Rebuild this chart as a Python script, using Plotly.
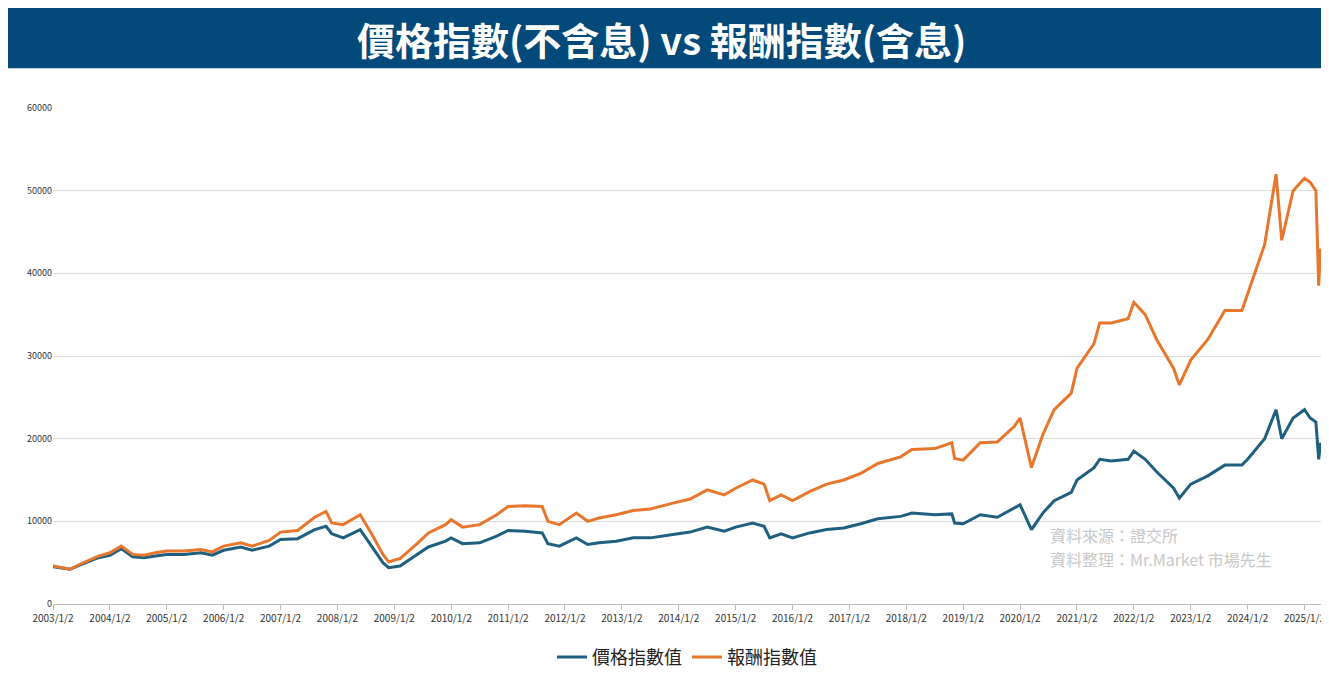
import plotly.graph_objects as go

t = [2003.0,2003.3,2003.5,2003.8,2004.0,2004.2,2004.4,2004.6,2004.8,2005.0,2005.3,2005.6,2005.8,2006.0,2006.3,2006.5,2006.8,2007.0,2007.3,2007.6,2007.8,2007.9,2008.1,2008.4,2008.6,2008.8,2008.9,2009.1,2009.4,2009.6,2009.9,2010.0,2010.2,2010.5,2010.8,2011.0,2011.3,2011.6,2011.7,2011.9,2012.2,2012.4,2012.6,2012.9,2013.2,2013.5,2013.9,2014.2,2014.5,2014.8,2015.0,2015.3,2015.5,2015.6,2015.8,2016.0,2016.3,2016.6,2016.9,2017.2,2017.5,2017.9,2018.1,2018.5,2018.8,2018.85,2019.0,2019.3,2019.6,2019.9,2020.0,2020.2,2020.4,2020.6,2020.9,2021.0,2021.3,2021.4,2021.6,2021.9,2022.0,2022.2,2022.4,2022.7,2022.8,2023.0,2023.3,2023.6,2023.9,2024.0,2024.3,2024.5,2024.6,2024.8,2025.0,2025.1,2025.2,2025.25,2025.28]
price = [4500,4200,4800,5600,5900,6700,5700,5600,5800,6000,6000,6200,5900,6500,6900,6500,7000,7800,7900,9000,9400,8500,8000,9000,7000,5000,4400,4600,6000,6900,7600,8000,7300,7400,8200,8900,8800,8600,7300,7000,8000,7200,7400,7600,8000,8000,8400,8700,9300,8800,9300,9800,9400,8000,8500,8000,8600,9000,9200,9700,10300,10600,11000,10800,10900,9800,9700,10800,10500,11600,12000,9000,11000,12500,13500,15000,16500,17500,17300,17500,18500,17500,16000,14000,12800,14500,15500,16800,16800,17500,20000,23500,20000,22500,23500,22500,22000,17500,19500]
total = [4600,4200,4900,5800,6200,7000,6000,5900,6200,6400,6400,6600,6300,7000,7400,7000,7700,8700,8900,10500,11200,9800,9600,10800,8500,6000,5100,5500,7300,8600,9600,10200,9300,9600,10800,11800,11900,11800,10000,9600,11000,10000,10400,10800,11300,11500,12200,12700,13800,13200,14000,15000,14500,12500,13200,12500,13600,14500,15000,15800,17000,17800,18700,18800,19500,17600,17400,19500,19600,21500,22500,16500,20500,23500,25500,28500,31500,34000,34000,34500,36500,35000,32000,28500,26500,29500,32000,35500,35500,37500,43500,52000,44000,50000,51500,51000,50000,38500,43000]
years = list(range(2003, 2026))
ticktext = [f"{y}/1/2" for y in years]

fig = go.Figure()
fig.add_trace(go.Scatter(x=t, y=price, name="價格指數值", mode="lines", line=dict(color="#1f5f7f", width=3)))
fig.add_trace(go.Scatter(x=t, y=total, name="報酬指數值", mode="lines", line=dict(color="#e8772e", width=3)))
fig.update_layout(
    width=1329, height=680, margin=dict(l=45, r=16, t=100, b=67),
    plot_bgcolor="white", paper_bgcolor="white",
    font=dict(family="Noto Sans CJK TC", color="#333"),
    xaxis=dict(range=[2003, 2025.29], tickvals=years, ticktext=ticktext, tickfont=dict(size=10),
               showgrid=False, showline=True, linecolor="#bbb", ticks="outside", tickcolor="#bbb", tickangle=0),
    yaxis=dict(range=[0, 60000], dtick=10000, tickformat="d", tickfont=dict(size=9), gridcolor="#dcdcdc", zeroline=False),
    legend=dict(orientation="h", x=0.5, xanchor="center", y=-0.07, yanchor="top", font=dict(size=18, color="#222")),
    shapes=[dict(type="rect", xref="paper", yref="paper", x0=-0.1, x1=1.1, y0=1.08, y1=1.4,
                 fillcolor="#034a7a", line=dict(width=0), layer="below")],
    annotations=[
        dict(text="<b>價格指數(不含息) vs 報酬指數(含息)</b>", xref="paper", yref="paper", x=0.48, y=1.14,
             showarrow=False, font=dict(size=38, color="white", family="Noto Sans CJK TC"), xanchor="center", yanchor="middle"),
        dict(text="資料來源：證交所", xref="paper", yref="paper", x=0.785, y=0.14,
             showarrow=False, xanchor="left", yanchor="middle", font=dict(size=16, color="#c8c8c8")),
        dict(text="資料整理：Mr.Market 市場先生", xref="paper", yref="paper", x=0.785, y=0.09,
             showarrow=False, xanchor="left", yanchor="middle", font=dict(size=16, color="#c8c8c8")),
    ],
)
fig.write_html("out.html")
